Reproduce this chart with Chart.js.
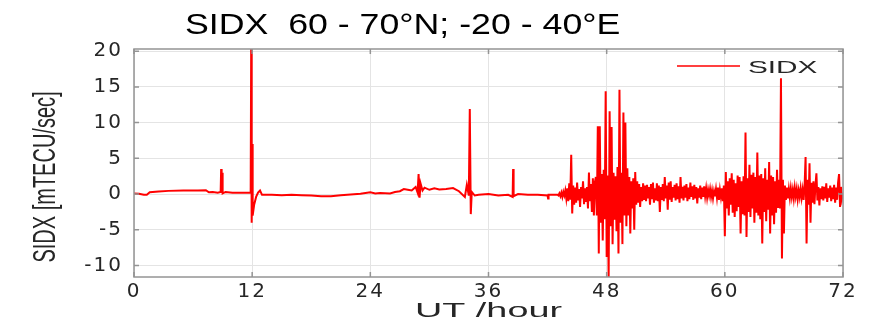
<!DOCTYPE html>
<html>
<head>
<meta charset="utf-8">
<script src="https://cdn.jsdelivr.net/npm/chart.js@4.4.1/dist/chart.umd.min.js"></script>
<style>
  html, body { margin: 0; padding: 0; background: #fff; overflow: hidden; }
  canvas { display: block; }
</style>
</head>
<body>
<canvas id="sidxChart" width="884" height="324"></canvas>
<script>
// tick labels
const xTicks = [0, 12, 24, 36, 48, 60, 72];
const yTicks = [-10, -5, 0, 5, 10, 15, 20];

// quiet first part of the record, hand-read (hour, value) pairs
const calmHours = [0, 0.5, 1.0, 1.3, 1.6, 2.5, 3.5, 5.0, 6.5, 7.3,
  7.6, 8.0, 8.5, 8.8, 8.85, 8.9, 8.95, 9.0, 9.3, 10.0,
  11.0, 11.8, 11.85, 11.9, 11.95, 12.0, 12.05, 12.2, 12.4, 12.6,
  12.8, 13, 14, 15, 16, 17, 18, 19, 20, 21,
  22, 23, 24, 24.5, 25, 26, 26.5, 27, 27.4, 27.8,
  28.2, 28.6, 28.8, 28.9, 29.0, 29.1, 29.3, 29.5, 30.0, 30.5,
  31.0, 31.7, 32.4, 33.0, 33.6, 33.8, 34.0, 34.1, 34.2, 34.3,
  34.6, 35, 36, 37, 38, 38.45, 38.5, 38.55, 39, 40,
  41, 42, 42.05, 42.1, 42.8];
const calmSidx = [0.1, 0.05, -0.1, -0.1, 0.25, 0.35, 0.45, 0.5, 0.5, 0.55,
  0.25, 0.3, 0.2, 0.3, 3.5, 0.4, 3.0, 0.1, 0.3, 0.2,
  0.2, 0.2, 0.4, 20.5, -4.0, 7.0, -3.0, -1.5, -0.4, 0.2,
  0.5, -0.1, -0.1, -0.15, -0.1, -0.15, -0.2, -0.3, -0.3, -0.15,
  -0.05, 0.05, 0.25, 0.1, 0.15, 0.1, 0.3, 0.4, 0.7, 0.6,
  0.5, 1.0, 0.2, 2.8, -0.5, 1.5, 0.5, 0.9, 0.6, 0.8,
  0.65, 0.7, 0.85, 0.4, -0.4, 1.3, -0.2, 11.9, -2.8, 0.3,
  -0.2, -0.1, 0.0, -0.2, -0.1, -0.4, 3.5, -0.3, 0.0, -0.1,
  -0.1, -0.2, -0.6, -0.1, -0.1];

// disturbed part, one reading every 0.1 h from 43 h to 72 h
const stormStart = 43;
const stormStep = 0.1;
const stormSidx = [
  -0.1, -0.2, 0.1, -0.3, 0.2, -0.4, 0.3, -0.2, 0.5, -0.6,   // 43
  0.8, -1.0, 1.5, -0.8, 5.5, -2.7, 1.2, -1.5, 0.9, -1.2,    // 44
  1.6, -0.9, 0.7, -1.8, 1.0, -0.6, 1.8, -1.4, 0.8, -1.1,    // 45
  1.0, -2.0, 3.0, -1.0, 1.4, -2.5, 2.2, -3.0, 1.6, 2.4,     // 46
  -3.0, 9.5, -8.3, 9.5, -4.0, 2.8, -6.5, 3.4, -3.5, 14.4,   // 47
  -8.8, 2.6, -12.0, 11.6, -4.5, 9.4, -7.0, 3.0, -3.6, 2.5,  // 48
  -5.2, 3.8, -8.3, 14.6, -4.0, 3.0, -7.0, 11.4, -3.0, 10.0, // 49
  -4.5, 3.6, -3.0, 2.4, -5.5, 1.8, -2.0, 2.2, -5.0, 3.1,    // 50
  -1.5, 1.8, -1.2, 1.4, -1.8, 1.0, -1.0, 1.5, -0.8, 1.2,    // 51
  -1.0, 1.3, -0.6, 1.0, -1.5, 1.4, -0.7, 1.6, -1.2, 0.8,    // 52
  -0.9, 1.5, -1.0, 1.2, -2.5, 1.0, -0.8, 1.4, -1.0, 2.4,    // 53
  -0.6, 1.2, -2.2, 1.6, -0.8, 1.8, -1.1, 1.0, -0.5, 1.3,    // 54
  -0.9, 1.5, -0.7, 1.1, -1.2, 2.4, -0.6, 1.0, -0.9, 1.2,    // 55
  -0.5, 1.4, -1.0, 0.9, -0.7, 1.6, -0.4, 1.1, -0.8, 1.3,    // 56
  -0.6, 1.0, -1.3, 0.8, -0.5, 1.2, -0.7, 0.9, -0.4, 1.1,    // 57
  -0.3, 0.8, -0.5, 0.6, -0.2, 0.7, -0.4, 0.5, -0.6, 0.4,    // 58
  -0.3, 0.7, -0.5, 0.9, -0.8, 0.6, -0.4, 0.8, -1.0, 1.2,    // 59
  -5.9, 3.1, -2.0, 1.8, -3.0, 2.2, -1.5, 2.9, -2.6, 2.0,    // 60
  -3.2, 1.5, -2.4, 2.6, -1.8, 2.4, -5.5, 1.8, -2.8, 2.5,    // 61
  -3.0, 8.6, -6.0, 2.2, -2.5, 4.1, -3.2, 2.7, -2.0, 3.0,    // 62
  -4.0, 2.4, -2.6, 5.8, -3.0, 2.6, -3.5, 2.8, -6.9, 2.2,    // 63
  -2.5, 3.6, -3.8, 2.0, -2.2, 4.5, -5.5, 2.6, -3.0, 2.4,    // 64
  -4.2, 1.8, -2.6, 3.4, -1.8, 2.0, -2.0, 16.2, -9.0, 2.0,   // 65
  -5.5, 1.2, -0.8, 0.9, -0.6, 0.7, -0.5, 0.8, -0.4, 0.6,    // 66
  -0.6, 0.9, -0.3, 0.7, -0.7, 0.5, -0.4, 0.8, -0.5, 0.6,    // 67
  -0.8, 1.2, 5.2, -6.9, 2.0, -1.5, 4.3, -4.0, 1.6, -1.2,    // 68
  1.8, -1.4, 1.2, 2.9, -0.9, 1.0, -1.6, 0.8, -0.7, 1.1,     // 69
  -0.9, 1.0, -0.6, 1.5, -1.1, 0.8, -0.5, 1.2, -1.0, 0.9,    // 70
  -0.7, 1.3, -1.2, 0.9, -0.8, 1.6, 2.8, -1.8, 1.0, -0.6,    // 71
  0.2                                                        // 72
];

const points = calmHours.map((h, i) => ({ x: h, y: calmSidx[i] }))
  .concat(stormSidx.map((v, i) => ({ x: +(stormStart + i * stormStep).toFixed(2), y: v })));

// draws text stretched sideways like the exported figure (y = baseline)
function stretchText(ctx, text, x, y, sx, font, align, rotate) {
  ctx.save();
  ctx.translate(x, y);
  ctx.scale(sx, 1);
  if (rotate) ctx.rotate(-Math.PI / 2);
  ctx.font = font;
  ctx.textAlign = align;
  ctx.textBaseline = rotate ? 'middle' : 'alphabetic';
  ctx.fillText(text, 0, 0);
  ctx.restore();
}

const matlabLook = {
  id: 'matlabLook',
  beforeDraw(chart) {
    chart.ctx.letterSpacing = '2px'; // wide tick labels
  },
  afterDraw(chart) {
    const { ctx, chartArea: a, scales } = chart;
    ctx.save();
    ctx.letterSpacing = '0px';

    // axes box and inward tick marks
    ctx.strokeStyle = '#949494';
    ctx.lineWidth = 1.5;
    ctx.strokeRect(a.left, a.top, a.right - a.left, a.bottom - a.top);
    ctx.beginPath();
    xTicks.forEach(v => {
      const px = scales.x.getPixelForValue(v);
      ctx.moveTo(px, a.bottom); ctx.lineTo(px, a.bottom - 5);
      ctx.moveTo(px, a.top); ctx.lineTo(px, a.top + 5);
    });
    yTicks.forEach(v => {
      const py = scales.y.getPixelForValue(v);
      ctx.moveTo(a.left, py); ctx.lineTo(a.left + 5, py);
      ctx.moveTo(a.right, py); ctx.lineTo(a.right - 5, py);
    });
    ctx.stroke();

    // title and axis titles
    ctx.fillStyle = '#000';
    stretchText(ctx, 'SIDX  60 - 70°N; -20 - 40°E', 185, 34, 1.19, '30px "Liberation Sans", Arial', 'left');
    ctx.fillStyle = '#262626';
    stretchText(ctx, 'SIDX [mTECU/sec]', 46, 177, 1.6, '20px "Liberation Sans", Arial', 'center', true);
    stretchText(ctx, 'UT /hour', (a.left + a.right) / 2, 317, 1.8, '21px "Liberation Sans", Arial', 'center');

    // legend
    ctx.strokeStyle = '#ff0000';
    ctx.lineWidth = 1.5;
    ctx.beginPath();
    ctx.moveTo(677, 66); ctx.lineTo(740, 66);
    ctx.stroke();
    stretchText(ctx, 'SIDX', 748, 73, 1.75, '17px "Liberation Sans", Arial', 'left');
    ctx.restore();
  }
};

const tickFont = { family: '"DejaVu Sans", sans-serif', size: 20 };

new Chart(document.getElementById('sidxChart').getContext('2d'), {
  type: 'line',
  data: {
    datasets: [{
      label: 'SIDX',
      data: points,
      borderColor: '#ff0000',
      borderWidth: 2,
      pointRadius: 0,
      tension: 0,
      fill: false
    }]
  },
  options: {
    responsive: false,
    animation: false,
    layout: { padding: { left: 0, right: 41, top: 49, bottom: 0 } },
    scales: {
      x: {
        type: 'linear',
        min: 0,
        max: 72,
        afterBuildTicks: s => { s.ticks = xTicks.map(v => ({ value: v })); },
        afterFit: s => { s.height = 47; },
        grid: { color: '#e4e4e4', drawTicks: false },
        border: { display: false },
        ticks: { color: '#262626', font: tickFont, padding: 3, maxRotation: 0 }
      },
      y: {
        min: -11.6,
        max: 20.3,
        afterBuildTicks: s => { s.ticks = yTicks.map(v => ({ value: v })); },
        afterFit: s => { s.width = 134; },
        grid: { color: '#e4e4e4', drawTicks: false },
        border: { display: false },
        ticks: { color: '#262626', font: tickFont, padding: 11 }
      }
    },
    plugins: {
      legend: { display: false },
      tooltip: { enabled: false }
    }
  },
  plugins: [matlabLook]
});
</script>
</body>
</html>
